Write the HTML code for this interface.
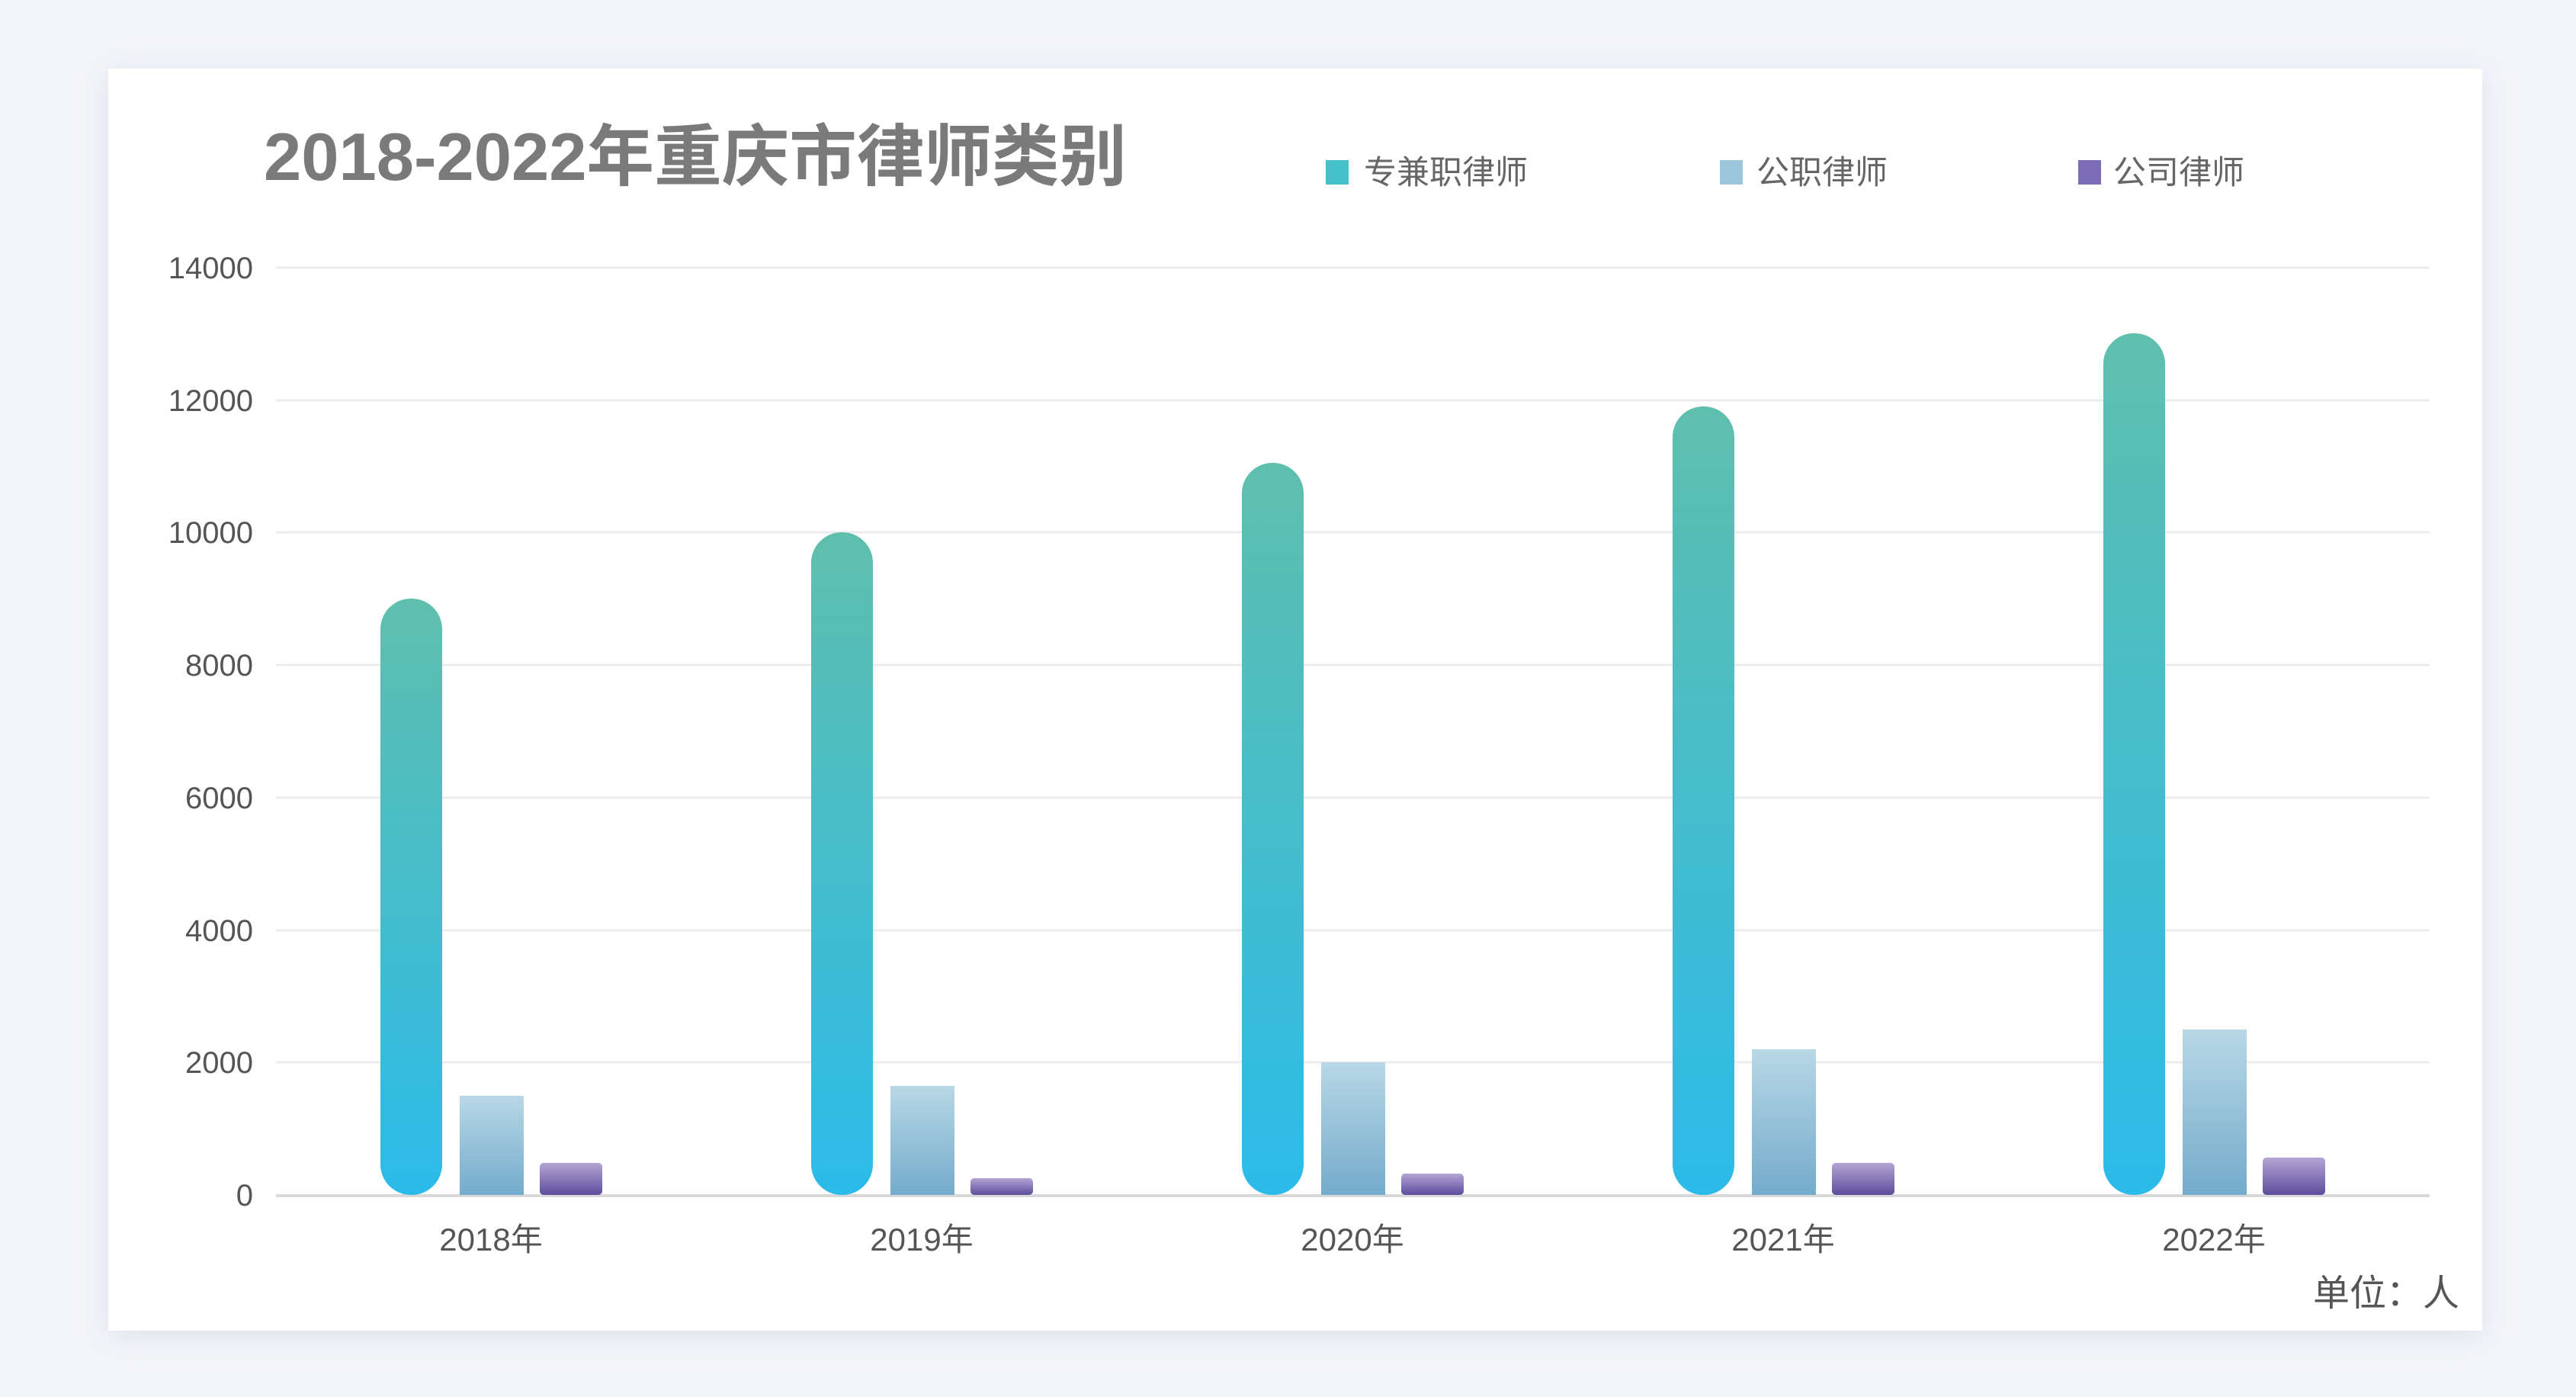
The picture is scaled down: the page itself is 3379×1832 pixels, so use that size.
<!DOCTYPE html>
<html><head><meta charset="utf-8"><style>
html,body{margin:0;padding:0;background:#f4f5f9;}
svg{display:block;}
text{font-family:"Liberation Sans","Noto Sans CJK SC",sans-serif;}
</style></head><body>
<svg width="3379" height="1832" viewBox="0 0 3379 1832" xmlns="http://www.w3.org/2000/svg">
<defs>
<linearGradient id="g1" x1="0" y1="0" x2="0" y2="1"><stop offset="0" stop-color="#5fbfad"/><stop offset="1" stop-color="#2bbbea"/></linearGradient>
<linearGradient id="g2" x1="0" y1="0" x2="0" y2="1"><stop offset="0" stop-color="#b8d8e6"/><stop offset="1" stop-color="#74abcb"/></linearGradient>
<linearGradient id="g3" x1="0" y1="0" x2="0" y2="1"><stop offset="0" stop-color="#b5a5d4"/><stop offset="1" stop-color="#5c4d9d"/></linearGradient>
<filter id="sh" x="-5%" y="-5%" width="110%" height="110%"><feGaussianBlur stdDeviation="18"/></filter>
</defs>
<rect width="3379" height="1832" fill="#f4f5f9"/>
<rect x="142" y="96" width="3114" height="1655" fill="#dde0ea" filter="url(#sh)"/>
<rect x="142" y="90" width="3114" height="1655" fill="#ffffff"/>
<text x="346" y="236" font-size="88" font-weight="bold" fill="#7a7a7a" textLength="1132" lengthAdjust="spacingAndGlyphs">2018-2022年重庆市律师类别</text>
<rect x="1739" y="210" width="30" height="32" fill="#45c1cc"/>
<text x="1789" y="241" font-size="43" fill="#666">专兼职律师</text>
<rect x="2256" y="210" width="30" height="32" fill="#9cc6dc"/>
<text x="2304" y="241" font-size="43" fill="#666">公职律师</text>
<rect x="2726" y="210" width="30" height="32" fill="#7c6cb8"/>
<text x="2772" y="241" font-size="43" fill="#666">公司律师</text>
<g stroke="#ececf0" stroke-width="3">
<line x1="362" y1="351" x2="3187" y2="351"/><line x1="362" y1="525" x2="3187" y2="525"/>
<line x1="362" y1="698" x2="3187" y2="698"/><line x1="362" y1="872" x2="3187" y2="872"/>
<line x1="362" y1="1046" x2="3187" y2="1046"/><line x1="362" y1="1220" x2="3187" y2="1220"/>
<line x1="362" y1="1393" x2="3187" y2="1393"/>
</g>
<line x1="362" y1="1568" x2="3187" y2="1568" stroke="#d9d9d9" stroke-width="4"/>
<g font-size="40" fill="#555" text-anchor="end">
<text x="332" y="365">14000</text><text x="332" y="539">12000</text><text x="332" y="712">10000</text>
<text x="332" y="886">8000</text><text x="332" y="1060">6000</text><text x="332" y="1234">4000</text>
<text x="332" y="1407">2000</text><text x="332" y="1581">0</text>
</g>
<g font-size="42" fill="#555" text-anchor="middle">
<text x="644" y="1640">2018年</text><text x="1209" y="1640">2019年</text><text x="1774" y="1640">2020年</text>
<text x="2339" y="1640">2021年</text><text x="2904" y="1640">2022年</text>
</g>
<text x="3226" y="1712" font-size="48" fill="#555" text-anchor="end">单位：人</text>
<g fill="url(#g1)">
<rect x="499" y="785" width="81" height="782" rx="40"/>
<rect x="1064" y="698" width="81" height="869" rx="40"/>
<rect x="1629" y="607" width="81" height="960" rx="40"/>
<rect x="2194" y="533" width="81" height="1034" rx="40"/>
<rect x="2759" y="437" width="81" height="1130" rx="40"/>
</g>
<g fill="url(#g2)">
<rect x="603" y="1437" width="84" height="130"/>
<rect x="1168" y="1424" width="84" height="143"/>
<rect x="1733" y="1393" width="84" height="174"/>
<rect x="2298" y="1376" width="84" height="191"/>
<rect x="2863" y="1350" width="84" height="217"/>
</g>
<g fill="url(#g3)">
<rect x="708" y="1525" width="82" height="42" rx="5"/>
<rect x="1273" y="1545" width="82" height="22" rx="5"/>
<rect x="1838" y="1539" width="82" height="28" rx="5"/>
<rect x="2403" y="1525" width="82" height="42" rx="5"/>
<rect x="2968" y="1518" width="82" height="49" rx="5"/>
</g>
</svg>
</body></html>
